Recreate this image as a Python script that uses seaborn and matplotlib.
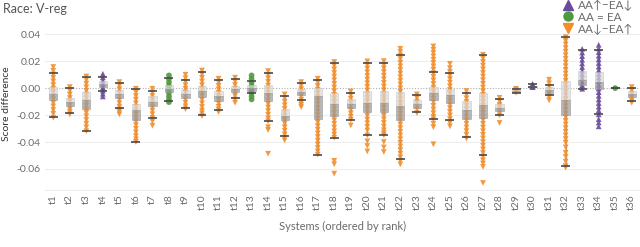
import matplotlib
matplotlib.use("Agg")
import matplotlib.pyplot as plt
from matplotlib.lines import Line2D
import numpy as np
import pandas as pd
import seaborn as sns

systems = [f"t{i}" for i in range(1, 37)]
groups = ["down", "down", "down", "up", "down", "down", "down", "eq", "down", "down",
          "down", "down", "eq", "down", "down", "down", "down", "down", "down", "down",
          "down", "down", "down", "down", "down", "down", "down", "down", "down", "up",
          "down", "down", "up", "up", "eq", "down"]

# box statistics
q3 = [.0007, -.0072, -.003, .0052, -.0017, -.0116, -.0062, .0025, -.0012, .0017,
      -.0022, .0012, .002, .002, -.0153, -.0005, 0, -.0037, -.0084, -.0025,
      -.0025, -.003, -.0091, .0007, -.001, -.0099, -.0035, -.0121, -.0012, .0015,
      .0007, .0052, .0126, .0119, 0, -.0022]
med = [-.0042, -.0104, -.0091, .0032, -.0047, -.0165, -.0104, -.0005, -.0042, -.0022,
       -.0062, -.001, 0, -.0037, -.021, -.003, -.0062, -.0116, -.0116, -.0109,
       -.0111, -.0136, -.0116, -.0037, -.0054, -.016, -.0128, -.0148, -.0022, .001,
       -.0012, -.0091, .0062, .0044, 0, -.0042]
q1 = [-.0091, -.0133, -.0153, .0007, -.0074, -.024, -.0136, -.003, -.0072, -.0067,
      -.0099, -.003, -.0025, -.0096, -.024, -.0054, -.0227, -.0207, -.0146, -.0178,
      -.0178, -.0235, -.0146, -.0091, -.0109, -.0227, -.0222, -.017, -.003, .0007,
      -.0035, -.0203, .002, -.001, 0, -.0067]
whisker_lo = [-.0215, -.0185, -.032, -.0025, -.0148, -.04, -.0222, -.0099, -.0148, -.0198,
              -.0165, -.0074, -.0035, -.0247, -.0356, -.0091, -.0494, -.0368, -.0235, -.0351,
              -.0351, -.0524, -.0178, -.0232, -.024, -.0363, -.0499, -.0203, -.0035, .0007,
              -.0054, -.0578, -.0005, -.0195, 0, -.0099]
whisker_hi = [.011, 0, .0081, .008, .0037, -.001, -.002, .0077, .0062, .0119,
              .0057, .0069, .0049, .0111, -.0059, .0037, .0062, .0185, -.0035, .0188,
              .0188, .0242, -.0054, .0119, .0114, -.0035, .0242, -.0084, -.0005, .0032,
              .0025, .0378, .0284, .0284, 0, 0]

# individual score differences per system
points = [
    [.0156, .0128, .0101, .0075, .0049, .0022, -.0004, -.003, -.0057, -.0083, -.011, -.0136, -.0163, -.019, -.022],
    [.0007, -.002, -.0047, -.0074, -.0101, -.0128, -.0155, -.0175, -.0195],
    [.0086, .006, .0033, .0006, -.0021, -.0048, -.0075, -.0102, -.0129, -.0156, -.0183, -.021, -.0237, -.0264, -.0291, -.032],
    [.0106, .008, .0055, .003, .0005, -.002, -.0042, -.0062],
    [.0044, .0018, -.0008, -.0034, -.006, -.0086, -.0112, -.0138, -.016, -.0178, -.0195],
    [-.0005, -.0032, -.0059, -.0086, -.0113, -.014, -.0167, -.0194, -.0221, -.0248, -.0275, -.0302, -.0329, -.0356, -.038, -.04],
    [-.0005, -.0032, -.0059, -.0086, -.0113, -.014, -.0167, -.0194, -.0221, -.0248, -.028],
    [.0094, .0068, .0042, .0016, -.001, -.0036, -.0062, -.0085, -.0104],
    [.0099, .0073, .0047, .0021, -.0005, -.0031, -.0057, -.0083, -.0109, -.0135, -.0156],
    [.013, .0103, .0076, .0049, .0022, -.0005, -.0032, -.0059, -.0086, -.0113, -.014, -.0167, -.0187, -.0207],
    [.0069, .0043, .0017, -.0009, -.0035, -.0061, -.0087, -.0113, -.0139, -.016, -.0178],
    [.0077, .005, .0023, -.0004, -.0031, -.0058, -.0085, -.0109],
    [.0094, .0068, .0042, .0016, -.001, -.0036, -.0062, -.0084],
    [.0126, .0099, .0072, .0045, .0018, -.0009, -.0036, -.0063, -.009, -.0117, -.0144, -.0171, -.0198, -.0225, -.0247, -.029, -.0311, -.0487],
    [-.0047, -.0074, -.0101, -.0128, -.0155, -.0182, -.0209, -.0236, -.0263, -.029, -.0317, -.0344, -.0368, -.0388],
    [.0044, .0018, -.0008, -.0034, -.006, -.0086, -.0108, -.0125, -.0141],
    [.0069, .0042, .0015, -.0012, -.0039, -.0066, -.0093, -.012, -.0147, -.0174, -.0201, -.0228, -.0255, -.0282, -.0309, -.0336, -.0363, -.039, -.0417, -.0444, -.047, -.0494],
    [.0193, .0166, .0139, .0112, .0085, .0058, .0031, .0004, -.0023, -.005, -.0077, -.0104, -.0131, -.0158, -.0185, -.0212, -.0239, -.0266, -.0293, -.032, -.0345, -.0368, -.054, -.0565, -.0635],
    [-.0025, -.0052, -.0079, -.0106, -.0133, -.016, -.0187, -.0212, -.0235, -.0277],
    [.0198, .0171, .0144, .0117, .009, .0063, .0036, .0009, -.0018, -.0045, -.0072, -.0099, -.0126, -.0153, -.018, -.0207, -.0234, -.0261, -.0288, -.0315, -.0351, -.0395, -.043, -.047],
    [.02, .0173, .0146, .0119, .0092, .0065, .0038, .0011, -.0016, -.0043, -.007, -.0097, -.0124, -.0151, -.0178, -.0205, -.0232, -.0259, -.0286, -.0313, -.0335, -.0351, -.04, -.044, -.0474],
    [.0291, .0267, .0242, .0215, .0188, .0161, .0134, .0107, .008, .0053, .0026, -.0001, -.0028, -.0055, -.0082, -.0109, -.0136, -.0163, -.019, -.0217, -.0244, -.0271, -.0298, -.0325, -.0352, -.0379, -.0406, -.0433, -.046, -.0487, -.0514, -.054, -.0566],
    [-.0047, -.0074, -.0101, -.0128, -.0155, -.0185],
    [.0309, .0284, .026, .0235, .021, .0186, .0161, .0136, .0111, .0084, .0057, .003, .0003, -.0024, -.0051, -.0078, -.0105, -.0132, -.0159, -.0186, -.0213, -.0232, -.0264, -.029, -.0417],
    [.018, .0148, .0121, .0094, .0067, .004, .0013, -.0014, -.0041, -.0068, -.0095, -.0122, -.0149, -.0176, -.0203, -.023, -.0259, -.0284],
    [-.0022, -.0049, -.0076, -.0103, -.013, -.0157, -.0184, -.0211, -.0238, -.0265, -.0292, -.0319, -.0346, -.0375],
    [.0247, .022, .0193, .0166, .0139, .0112, .0085, .0058, .0031, .0004, -.0023, -.005, -.0077, -.0104, -.0131, -.0158, -.0185, -.0212, -.0239, -.0266, -.0293, -.032, -.0347, -.0374, -.0401, -.0428, -.0455, -.0482, -.0509, -.0536, -.056, -.0585, -.0704],
    [-.0072, -.0099, -.0126, -.0153, -.018, -.0203, -.0259],
    [-.0005, -.0015, -.0025, -.0035],
    [.0032, .002, .001, .0007],
    [.0062, .0036, .001, -.0016, -.0042, -.0068, -.0091],
    [.0457, .0378, .0351, .0324, .0297, .027, .0243, .0216, .0189, .0162, .0135, .0108, .0081, .0054, .0027, 0, -.0027, -.0054, -.0081, -.0108, -.0135, -.0162, -.0189, -.0216, -.0243, -.027, -.0297, -.0324, -.0351, -.0378, -.0405, -.044, -.048, -.051, -.0545, -.0578, -.059],
    [.0291, .0264, .0237, .021, .0183, .0156, .0129, .0102, .0075, .0048, .0021, -.0005],
    [.0321, .0294, .0267, .024, .0213, .0186, .0159, .0132, .0105, .0078, .0051, .0024, -.0003, -.003, -.0057, -.0084, -.0111, -.0138, -.0165, -.0195, -.023, -.0255, -.0284],
    [0.0],
    [.0007, -.0018, -.0043, -.0068, -.0093, -.0109],
]

legend_labels = {"up": "AA\u2191\u2212EA\u2193", "eq": "AA = EA", "down": "AA\u2193\u2212EA\u2191"}
palette = {"up": "#6a4a9c", "eq": "#4f9a3e", "down": "#f28e2b"}
markers = {"up": "^", "eq": "o", "down": "v"}

rows = []
for s, g, vals in zip(systems, groups, points):
    for v in vals:
        rows.append((s, g, v))
df = pd.DataFrame(rows, columns=["system", "group", "diff"])

sns.set_style("white")
plt.rcParams["font.family"] = ["Lato", "DejaVu Sans"]
grey = "#6b6b6b"

fig = plt.figure(figsize=(6.4, 2.47), dpi=100)
ax = fig.add_axes([0.0703, 0.2308, 0.9297, 0.6964])

pos = np.arange(len(systems))
ax.vlines(pos, whisker_lo, whisker_hi, color="#a0a0a0", lw=0.9, zorder=1)

sns.scatterplot(data=df, x="system", y="diff", hue="group", style="group",
                palette=palette, markers=markers, s=17, linewidth=0,
                alpha=0.9, legend=False, ax=ax, zorder=2)

q3a, meda, q1a = np.array(q3), np.array(med), np.array(q1)
ax.bar(pos, q3a - meda, bottom=meda, width=0.5, color="#dadada", alpha=0.7,
       edgecolor="#c4c4c4", linewidth=0.5, zorder=3)
ax.bar(pos, meda - q1a, bottom=q1a, width=0.5, color="#9b9b9b", alpha=0.7,
       edgecolor="#8f8f8f", linewidth=0.5, zorder=3)
ax.hlines(whisker_lo, pos - 0.27, pos + 0.27, color="#4a4a4a", lw=1.2, zorder=4)
ax.hlines(whisker_hi, pos - 0.27, pos + 0.27, color="#4a4a4a", lw=1.2, zorder=4)

ax.axhline(0, color="#b0b0b0", lw=0.8, ls=(0, (1, 1.5)), zorder=0)
for yv in [0.04, 0.02, -0.02, -0.04, -0.06]:
    ax.axhline(yv, color="#eeeeee", lw=0.8, zorder=0)

ax.set_xlim(-0.5, 35.5)
ax.set_ylim(-0.0756, 0.052)
ax.set_yticks([0.04, 0.02, 0.0, -0.02, -0.04, -0.06])
ax.set_yticklabels(["0.04", "0.02", "0.00", "-0.02", "-0.04", "-0.06"])
ax.set_xticks(pos)
ax.set_xticklabels(systems, rotation=90)
ax.tick_params(axis="both", length=0, colors=grey, labelsize=7.5, pad=3)
for side in ["top", "right", "left"]:
    ax.spines[side].set_visible(False)
ax.spines["bottom"].set_color("#eeeeee")

ax.set_xlabel("Systems (ordered by rank)", color=grey, fontsize=8, labelpad=8)
ax.set_ylabel("Score difference", color="#333333", fontsize=7.5, labelpad=4)
fig.text(0.005, 0.965, "Race: V-reg", color="#555555", fontsize=9, va="center")

handles = [Line2D([], [], ls="", marker=markers[k], color=palette[k], markersize=6.5,
                  label=legend_labels[k]) for k in ["up", "eq", "down"]]
leg = fig.legend(handles=handles, loc="upper right", bbox_to_anchor=(1.0, 1.03),
                 frameon=False, fontsize=8.5, handletextpad=0.2, labelspacing=0.05,
                 handlelength=1.2, borderaxespad=0.2)
for t in leg.get_texts():
    t.set_color(grey)

fig.savefig("out.png", dpi=100)
